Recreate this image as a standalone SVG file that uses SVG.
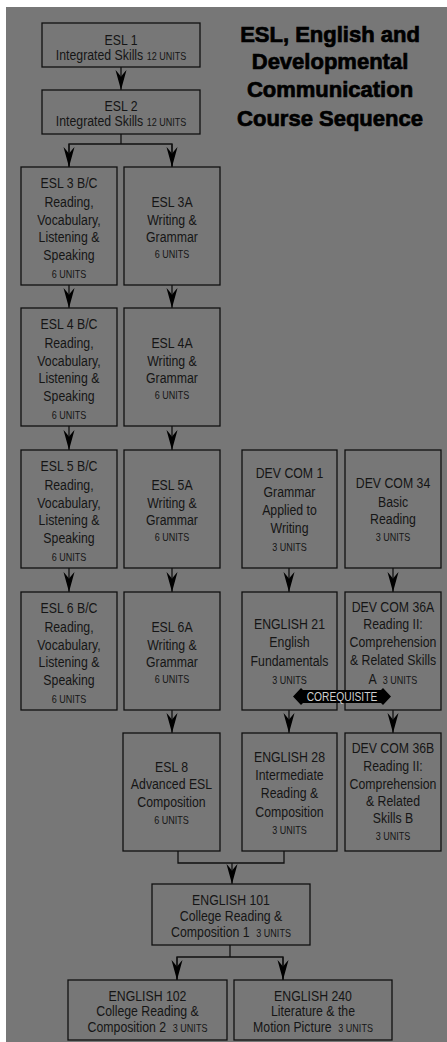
<svg xmlns="http://www.w3.org/2000/svg" width="447" height="1042" viewBox="0 0 447 1042">
<style>
.bg{fill:#777777}
.box{fill:none;stroke:#111;stroke-width:1.3}
.t{font-family:"Liberation Sans",Arial,sans-serif;font-size:15px;fill:#151515;text-anchor:middle}
.u{font-size:11px}
.title{font-family:"Liberation Sans",Arial,sans-serif;font-weight:bold;font-size:22px;fill:#000;stroke:#000;stroke-width:0.7;text-anchor:middle}
.ln{fill:none;stroke:#111;stroke-width:1.3}
.coreq{font-family:"Liberation Sans",Arial,sans-serif;font-size:12.5px;fill:#cfcfcf;text-anchor:middle}
</style>
<defs>
<marker id="ah" viewBox="-21 -6 22 12" refX="0" refY="0" markerWidth="22" markerHeight="12" markerUnits="userSpaceOnUse" orient="auto">
<path d="M0,0 L-20,-5.5 Q-15,-1 -13,0 Q-15,1 -20,5.5 Z" fill="#000"/>
</marker>
</defs>
<rect x="0" y="0" width="447" height="1042" fill="#fff"/>
<rect class="bg" x="6" y="7" width="441" height="1035"/>

<g id="title">
<text class="title" x="330" y="42">ESL, English and</text>
<text class="title" x="330" y="69">Developmental</text>
<text class="title" x="330" y="97">Communication</text>
<text class="title" x="330" y="126">Course Sequence</text>
</g>

<g id="connectors">
<line class="ln" x1="121" y1="67" x2="121" y2="90" marker-end="url(#ah)"/>
<polyline class="ln" points="121,134 121,144"/>
<polyline class="ln" points="69,167 69,144 172,144 172,167"/>
<line class="ln" x1="69" y1="144" x2="69" y2="167" marker-end="url(#ah)"/>
<line class="ln" x1="172" y1="144" x2="172" y2="167" marker-end="url(#ah)"/>
<line class="ln" x1="69" y1="285" x2="69" y2="308" marker-end="url(#ah)"/>
<line class="ln" x1="172" y1="285" x2="172" y2="308" marker-end="url(#ah)"/>
<line class="ln" x1="69" y1="426" x2="69" y2="450" marker-end="url(#ah)"/>
<line class="ln" x1="172" y1="426" x2="172" y2="450" marker-end="url(#ah)"/>
<line class="ln" x1="69" y1="568" x2="69" y2="592" marker-end="url(#ah)"/>
<line class="ln" x1="172" y1="568" x2="172" y2="592" marker-end="url(#ah)"/>
<line class="ln" x1="172" y1="710" x2="172" y2="733" marker-end="url(#ah)"/>
<line class="ln" x1="289" y1="568" x2="289" y2="592" marker-end="url(#ah)"/>
<line class="ln" x1="393" y1="568" x2="393" y2="592" marker-end="url(#ah)"/>
<line class="ln" x1="289" y1="710" x2="289" y2="733" marker-end="url(#ah)"/>
<line class="ln" x1="393" y1="710" x2="393" y2="733" marker-end="url(#ah)"/>
<polyline class="ln" points="178,851 178,863 284,863 284,851"/>
<line class="ln" x1="232" y1="863" x2="232" y2="884" marker-end="url(#ah)"/>
<polyline class="ln" points="230,945 230,957"/>
<polyline class="ln" points="177,980 177,957 283,957 283,980"/>
<line class="ln" x1="177" y1="957" x2="177" y2="980" marker-end="url(#ah)"/>
<line class="ln" x1="283" y1="957" x2="283" y2="980" marker-end="url(#ah)"/>
</g>

<g id="esl1">
<rect class="box" x="42" y="23" width="158" height="44"/>
<g transform="translate(121,0) scale(0.82,1)">
<text class="t" x="0" y="45">ESL 1</text>
<text class="t" x="0" y="60">Integrated Skills <tspan class="u">12 UNITS</tspan></text>
</g>
</g>
<g id="esl2">
<rect class="box" x="42" y="90" width="158" height="44"/>
<g transform="translate(121,0) scale(0.82,1)">
<text class="t" x="0" y="111">ESL 2</text>
<text class="t" x="0" y="126">Integrated Skills <tspan class="u">12 UNITS</tspan></text>
</g>
</g>

<g id="esl3bc">
<rect class="box" x="21" y="167" width="96" height="118"/>
<g transform="translate(69,0) scale(0.82,1)">
<text class="t" x="0" y="188">ESL 3 B/C</text>
<text class="t" x="0" y="207.5">Reading,</text>
<text class="t" x="0" y="225">Vocabulary,</text>
<text class="t" x="0" y="242.5">Listening &amp;</text>
<text class="t" x="0" y="260">Speaking</text>
<text class="t u" x="0" y="278">6 UNITS</text>
</g>
</g>
<g id="esl3a">
<rect class="box" x="124" y="167" width="96" height="118"/>
<g transform="translate(172,0) scale(0.82,1)">
<text class="t" x="0" y="207">ESL 3A</text>
<text class="t" x="0" y="225">Writing &amp;</text>
<text class="t" x="0" y="242">Grammar</text>
<text class="t u" x="0" y="258">6 UNITS</text>
</g>
</g>

<g id="esl4bc">
<rect class="box" x="21" y="308" width="96" height="118"/>
<g transform="translate(69,0) scale(0.82,1)">
<text class="t" x="0" y="329">ESL 4 B/C</text>
<text class="t" x="0" y="348.5">Reading,</text>
<text class="t" x="0" y="366">Vocabulary,</text>
<text class="t" x="0" y="383.5">Listening &amp;</text>
<text class="t" x="0" y="401">Speaking</text>
<text class="t u" x="0" y="419">6 UNITS</text>
</g>
</g>
<g id="esl4a">
<rect class="box" x="124" y="308" width="96" height="118"/>
<g transform="translate(172,0) scale(0.82,1)">
<text class="t" x="0" y="348">ESL 4A</text>
<text class="t" x="0" y="366">Writing &amp;</text>
<text class="t" x="0" y="383">Grammar</text>
<text class="t u" x="0" y="399">6 UNITS</text>
</g>
</g>

<g id="esl5bc">
<rect class="box" x="21" y="450" width="96" height="118"/>
<g transform="translate(69,0) scale(0.82,1)">
<text class="t" x="0" y="471">ESL 5 B/C</text>
<text class="t" x="0" y="490.5">Reading,</text>
<text class="t" x="0" y="508">Vocabulary,</text>
<text class="t" x="0" y="525.5">Listening &amp;</text>
<text class="t" x="0" y="543">Speaking</text>
<text class="t u" x="0" y="561">6 UNITS</text>
</g>
</g>
<g id="esl5a">
<rect class="box" x="124" y="450" width="96" height="118"/>
<g transform="translate(172,0) scale(0.82,1)">
<text class="t" x="0" y="490">ESL 5A</text>
<text class="t" x="0" y="508">Writing &amp;</text>
<text class="t" x="0" y="525">Grammar</text>
<text class="t u" x="0" y="541">6 UNITS</text>
</g>
</g>

<g id="esl6bc">
<rect class="box" x="21" y="592" width="96" height="118"/>
<g transform="translate(69,0) scale(0.82,1)">
<text class="t" x="0" y="613">ESL 6 B/C</text>
<text class="t" x="0" y="632.5">Reading,</text>
<text class="t" x="0" y="650">Vocabulary,</text>
<text class="t" x="0" y="667.5">Listening &amp;</text>
<text class="t" x="0" y="685">Speaking</text>
<text class="t u" x="0" y="703">6 UNITS</text>
</g>
</g>
<g id="esl6a">
<rect class="box" x="124" y="592" width="96" height="118"/>
<g transform="translate(172,0) scale(0.82,1)">
<text class="t" x="0" y="632">ESL 6A</text>
<text class="t" x="0" y="650">Writing &amp;</text>
<text class="t" x="0" y="667">Grammar</text>
<text class="t u" x="0" y="683">6 UNITS</text>
</g>
</g>

<g id="esl8">
<rect class="box" x="123" y="733" width="97" height="118"/>
<g transform="translate(171.5,0) scale(0.82,1)">
<text class="t" x="0" y="772">ESL 8</text>
<text class="t" x="0" y="789">Advanced ESL</text>
<text class="t" x="0" y="807">Composition</text>
<text class="t u" x="0" y="824">6 UNITS</text>
</g>
</g>

<g id="devcom1">
<rect class="box" x="242" y="450" width="95" height="118"/>
<g transform="translate(289.5,0) scale(0.82,1)">
<text class="t" x="0" y="478">DEV COM 1</text>
<text class="t" x="0" y="497">Grammar</text>
<text class="t" x="0" y="515">Applied to</text>
<text class="t" x="0" y="533">Writing</text>
<text class="t u" x="0" y="551">3 UNITS</text>
</g>
</g>
<g id="devcom34">
<rect class="box" x="345" y="450" width="96" height="118"/>
<g transform="translate(393,0) scale(0.82,1)">
<text class="t" x="0" y="488">DEV COM 34</text>
<text class="t" x="0" y="507">Basic</text>
<text class="t" x="0" y="524">Reading</text>
<text class="t u" x="0" y="541">3 UNITS</text>
</g>
</g>

<g id="english21">
<rect class="box" x="242" y="592" width="95" height="118"/>
<g transform="translate(289.5,0) scale(0.82,1)">
<text class="t" x="0" y="629">ENGLISH 21</text>
<text class="t" x="0" y="647">English</text>
<text class="t" x="0" y="666">Fundamentals</text>
<text class="t u" x="0" y="684">3 UNITS</text>
</g>
</g>
<g id="devcom36a">
<rect class="box" x="345" y="592" width="96" height="118"/>
<g transform="translate(393,0) scale(0.82,1)">
<text class="t" x="0" y="612">DEV COM 36A</text>
<text class="t" x="0" y="629">Reading II:</text>
<text class="t" x="0" y="647">Comprehension</text>
<text class="t" x="0" y="665">&amp; Related Skills</text>
<text class="t" x="0" y="684">A <tspan class="u" dx="4">3 UNITS</tspan></text>
</g>
</g>

<g id="corequisite">
<polygon points="293,696.5 301,688 303,690 381,690 383,688 391,696.5 383,705 381,703 303,703 301,705" fill="#000"/>
<g transform="translate(342,0) scale(0.82,1)">
<text class="coreq" x="0" y="701.5">COREQUISITE</text>
</g>
</g>

<g id="english28">
<rect class="box" x="242" y="733" width="95" height="118"/>
<g transform="translate(289.5,0) scale(0.82,1)">
<text class="t" x="0" y="762">ENGLISH 28</text>
<text class="t" x="0" y="780">Intermediate</text>
<text class="t" x="0" y="798">Reading &amp;</text>
<text class="t" x="0" y="817">Composition</text>
<text class="t u" x="0" y="834">3 UNITS</text>
</g>
</g>
<g id="devcom36b">
<rect class="box" x="345" y="733" width="96" height="118"/>
<g transform="translate(393,0) scale(0.82,1)">
<text class="t" x="0" y="753">DEV COM 36B</text>
<text class="t" x="0" y="771">Reading II:</text>
<text class="t" x="0" y="789">Comprehension</text>
<text class="t" x="0" y="806">&amp; Related</text>
<text class="t" x="0" y="823">Skills B</text>
<text class="t u" x="0" y="840">3 UNITS</text>
</g>
</g>

<g id="english101">
<rect class="box" x="152" y="884" width="158" height="61"/>
<g transform="translate(231,0) scale(0.82,1)">
<text class="t" x="0" y="905">ENGLISH 101</text>
<text class="t" x="0" y="921">College Reading &amp;</text>
<text class="t" x="0" y="937">Composition 1 <tspan class="u" dx="4">3 UNITS</tspan></text>
</g>
</g>
<g id="english102">
<rect class="box" x="68" y="980" width="159" height="60"/>
<g transform="translate(147.5,0) scale(0.82,1)">
<text class="t" x="0" y="1001">ENGLISH 102</text>
<text class="t" x="0" y="1016">College Reading &amp;</text>
<text class="t" x="0" y="1032">Composition 2 <tspan class="u" dx="4">3 UNITS</tspan></text>
</g>
</g>
<g id="english240">
<rect class="box" x="234" y="980" width="158" height="60"/>
<g transform="translate(313,0) scale(0.82,1)">
<text class="t" x="0" y="1001">ENGLISH 240</text>
<text class="t" x="0" y="1016">Literature &amp; the</text>
<text class="t" x="0" y="1032">Motion Picture <tspan class="u" dx="4">3 UNITS</tspan></text>
</g>
</g>
</svg>
